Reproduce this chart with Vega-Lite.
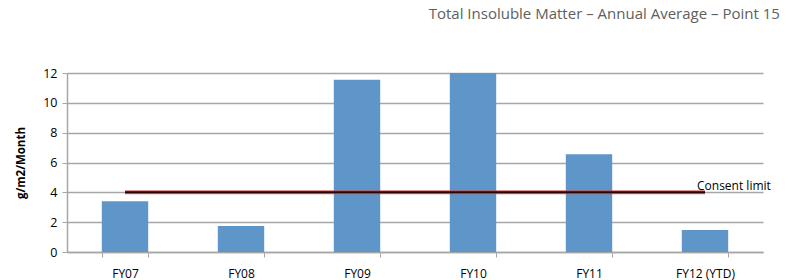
{
  "$schema": "https://vega.github.io/schema/vega-lite/v6.json",
  "autosize": "none",
  "width": 696,
  "height": 179,
  "padding": {"left": 67, "top": 73, "right": 35, "bottom": 28},
  "background": "white",
  "title": {
    "text": "Total Insoluble Matter – Annual Average – Point 15",
    "anchor": "end",
    "dx": 9,
    "offset": 45,
    "font": "Open Sans",
    "fontSize": 15,
    "fontWeight": "normal",
    "color": "#606060"
  },
  "datasets": {
    "bars": [
      {"year": "FY07", "value": 3.4},
      {"year": "FY08", "value": 1.75},
      {"year": "FY09", "value": 11.55},
      {"year": "FY10", "value": 12.0},
      {"year": "FY11", "value": 6.55},
      {"year": "FY12 (YTD)", "value": 1.48}
    ],
    "limit": [
      {"year": "FY07", "end": "FY12 (YTD)", "value": 4, "label": "Consent limit"}
    ]
  },
  "config": {
    "view": {"stroke": null},
    "scale": {"bandPaddingInner": 0.6, "bandPaddingOuter": 0.3},
    "axis": {
      "labelFont": "Open Sans",
      "titleFont": "Open Sans",
      "labelColor": "#000",
      "titleColor": "#000",
      "domainColor": "#a6a6a6",
      "tickColor": "#a6a6a6",
      "gridColor": "#a6a6a6"
    }
  },
  "encoding": {
    "x": {
      "field": "year",
      "type": "nominal",
      "sort": null,
      "scale": {"domain": ["FY07", "FY08", "FY09", "FY10", "FY11", "FY12 (YTD)"]},
      "axis": {
        "title": null,
        "labelAngle": 0,
        "labelFontSize": 12,
        "labelPadding": 11,
        "labelOverlap": false,
        "tickBand": "extent",
        "tickSize": 5,
        "domainWidth": 1.5,
        "grid": false
      }
    },
    "y": {
      "field": "value",
      "type": "quantitative",
      "scale": {"domain": [0, 12], "nice": false},
      "axis": {
        "title": "g/m2/Month",
        "titleFontSize": 11.5,
        "titleFontWeight": "bold",
        "titlePadding": 16,
        "values": [0, 2, 4, 6, 8, 10, 12],
        "labelOverlap": false,
        "labelFontSize": 12.5,
        "labelPadding": 5,
        "tickSize": 5,
        "domainWidth": 1.5,
        "gridWidth": 1.5
      }
    }
  },
  "layer": [
    {
      "data": {"name": "bars"},
      "mark": {"type": "bar", "color": "#5f96c9"}
    },
    {
      "data": {"name": "limit"},
      "mark": {"type": "rule", "color": "#c0504d", "strokeWidth": 4, "opacity": 0.8},
      "encoding": {
        "x2": {"field": "end"}
      }
    },
    {
      "data": {"name": "limit"},
      "mark": {"type": "rule", "color": "#2a0505", "strokeWidth": 2},
      "encoding": {
        "x2": {"field": "end"}
      }
    },
    {
      "data": {"name": "limit"},
      "mark": {"type": "text", "align": "left", "baseline": "middle", "dx": -8, "dy": -6, "font": "Open Sans", "fontSize": 12, "color": "#000"},
      "encoding": {
        "x": {"field": "end", "type": "nominal"},
        "text": {"field": "label"}
      }
    }
  ]
}
